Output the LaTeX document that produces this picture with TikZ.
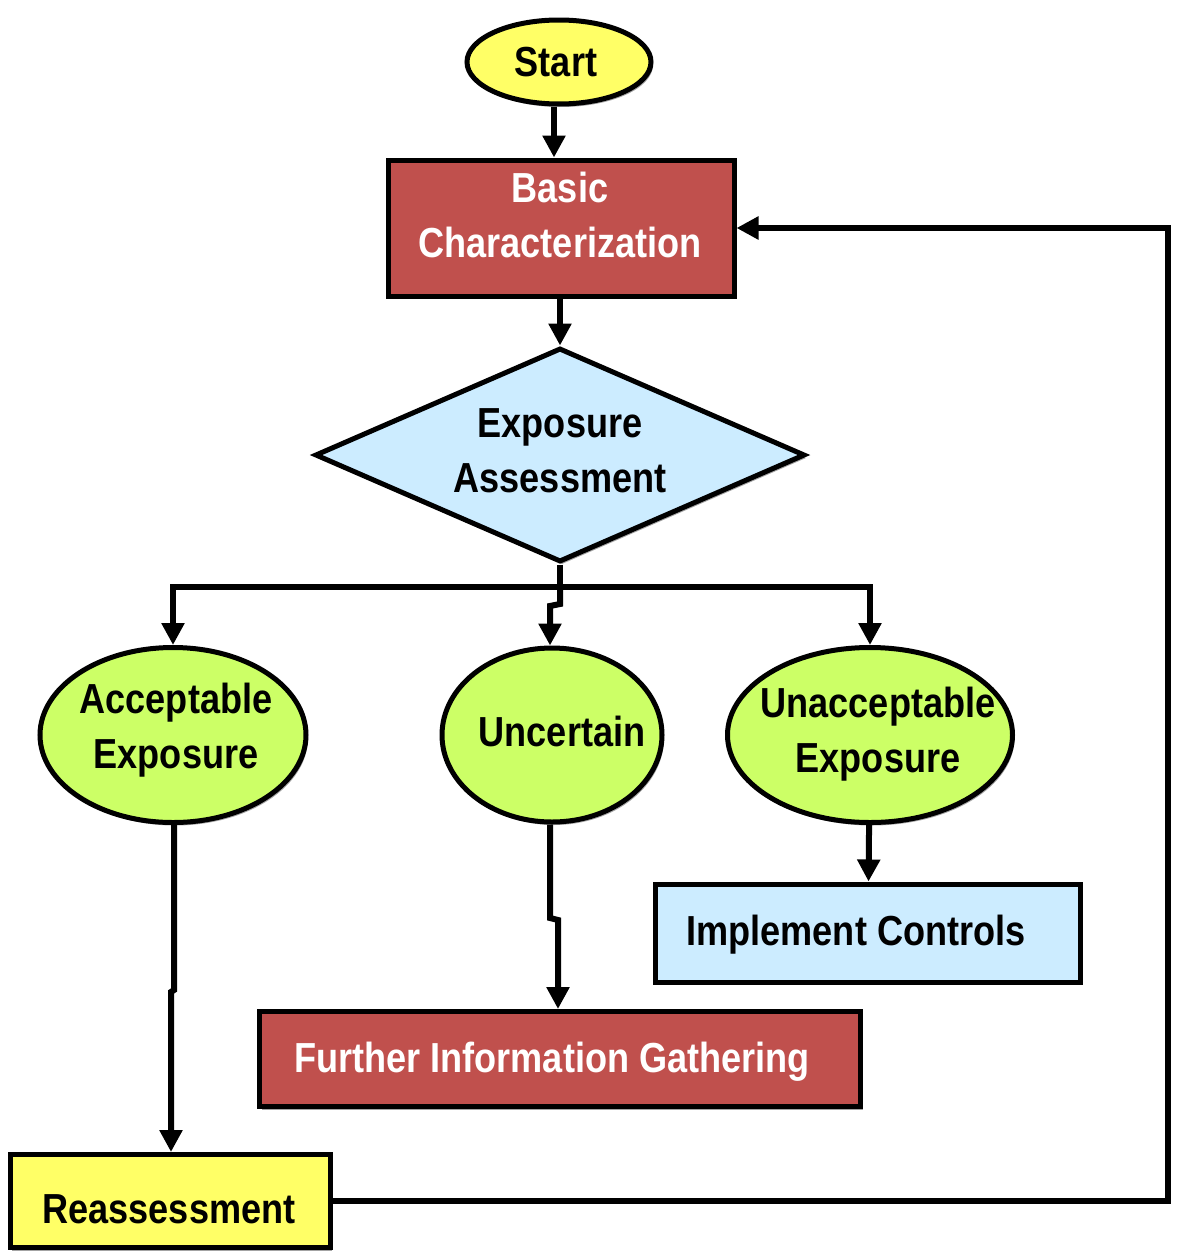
\documentclass[tikz,border=0pt]{standalone}
\usepackage{fontspec}
\newfontfamily\narrowfont{Liberation Sans}[FakeStretch=0.86]
\usetikzlibrary{shapes.geometric,arrows.meta,shadows}
\definecolor{startyellow}{HTML}{FFFF66}
\definecolor{boxred}{HTML}{C0504D}
\definecolor{paleblue}{HTML}{CCECFF}
\definecolor{limegreen}{HTML}{CCFF66}
\begin{document}
\begin{tikzpicture}[x=1pt,y=-1pt,
  txt/.style={font=\narrowfont\bfseries\fontsize{42}{55}\selectfont, align=center, inner sep=0pt},
  shape base/.style={draw=black, line width=5pt, inner sep=0pt, drop shadow={shadow xshift=2pt, shadow yshift=-3pt, fill=black!45, opacity=0.8}},
  oval/.style={shape base, ellipse},
  boxnode/.style={shape base, rectangle},
  choice/.style={shape base, diamond},
  link/.style={line width=6pt},
  arr/.style={link, -{Triangle[width=22pt,length=22pt]}}]
\useasboundingbox (0,0) rectangle (1177,1258);

% shapes
\node[oval, fill=startyellow, minimum width=184pt, minimum height=84pt] (start) at (559,62) {};
\node[boxnode, fill=boxred, minimum width=346pt, minimum height=136pt] (basic) at (561,228) {};
\node[choice, fill=paleblue, aspect=2.29, minimum width=490pt, minimum height=214pt] (assess) at (560,455) {};
\node[oval, fill=limegreen, minimum width=266pt, minimum height=175pt] (acc) at (173,735) {};
\node[oval, fill=limegreen, minimum width=220pt, minimum height=174pt] (unc) at (552,735) {};
\node[oval, fill=limegreen, minimum width=285pt, minimum height=175pt] (unacc) at (870,735) {};
\node[boxnode, fill=paleblue, minimum width=425pt, minimum height=98pt] (impl) at (868,933) {};
\node[boxnode, fill=boxred, minimum width=601pt, minimum height=95pt] (further) at (560,1059) {};
\node[boxnode, fill=startyellow, minimum width=320pt, minimum height=93pt] (reass) at (170,1201) {};

% texts
\node[txt] (startT) at (556,62) {Start};
\node[txt, text=white] (basicT) at (560,215) {Basic\\Characterization};
\node[txt] (assessT) at (560,451) {Exposure\\Assessment};
\node[txt] (accT) at (176,730) {Acceptable\\Exposure};
\node[txt] (uncT) at (562,731) {Uncertain};
\node[txt] (unaccT) at (878,734) {Unacceptable\\Exposure};
\node[txt] (implT) at (856,935) {Implement Controls};
\node[txt, text=white] (furtherT) at (552,1062) {Further Information Gathering};
\node[txt] (reassT) at (169,1209) {Reassessment};

% helper coordinates
\coordinate (split) at (560,587);
\coordinate (jogA) at (560,604);
\coordinate (jogB) at (550,606);
\coordinate (jogC) at (550,918);
\coordinate (jogD) at (558,920);
\coordinate (jogE) at (174,990);
\coordinate (jogF) at (171,992);
\coordinate (corner) at (1168,1201);

% connectors
\draw[arr] (start.south -| 554,0) -- (basic.north -| 554,0);
\draw[arr] (assess.north |- basic.south) -- (assess.north);
\draw[link] (assess.south) -- (split);
\draw[arr] (split) -| (acc.north);
\draw[arr] (split) -| (unacc.north);
\draw[arr] (split) -- (jogA) -- (jogB) -- (jogB |- unc.north);
\draw[arr] (unc.south -| jogC) -- (jogC) -- (jogD) -- (jogD |- further.north);
\draw[arr] (unacc) -- (impl);
\draw[arr] (acc.south -| jogE) -- (jogE) -- (jogF) -- (jogF |- reass.north);
\draw[arr] (reass.east) -- (corner) |- (basic.east);
\end{tikzpicture}
\end{document}
